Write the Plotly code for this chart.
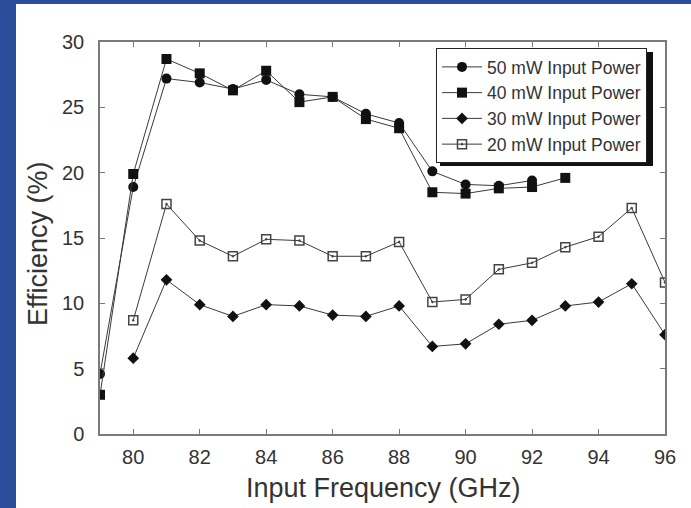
import plotly.graph_objects as go

# Measured efficiency (%) versus input frequency (GHz) at four drive levels
freq_50mw = [79, 80, 81, 82, 83, 84, 85, 86, 87, 88, 89, 90, 91, 92]
eff_50mw = [4.6, 18.9, 27.2, 26.9, 26.4, 27.1, 26.0, 25.8, 24.5, 23.8, 20.1, 19.1, 19.0, 19.4]

freq_40mw = [79, 80, 81, 82, 83, 84, 85, 86, 87, 88, 89, 90, 91, 92, 93]
eff_40mw = [3.0, 19.9, 28.7, 27.6, 26.3, 27.8, 25.4, 25.8, 24.1, 23.4, 18.5, 18.4, 18.8, 18.9, 19.6]

freq_30mw = [80, 81, 82, 83, 84, 85, 86, 87, 88, 89, 90, 91, 92, 93, 94, 95, 96]
eff_30mw = [5.8, 11.8, 9.9, 9.0, 9.9, 9.8, 9.1, 9.0, 9.8, 6.7, 6.9, 8.4, 8.7, 9.8, 10.1, 11.5, 7.6]

freq_20mw = [80, 81, 82, 83, 84, 85, 86, 87, 88, 89, 90, 91, 92, 93, 94, 95, 96]
eff_20mw = [8.7, 17.6, 14.8, 13.6, 14.9, 14.8, 13.6, 13.6, 14.7, 10.1, 10.3, 12.6, 13.1, 14.3, 15.1, 17.3, 11.6]

x_ticks = [80, 82, 84, 86, 88, 90, 92, 94, 96]
y_ticks = [0, 5, 10, 15, 20, 25, 30]

FONT = "Arial, Liberation Sans, sans-serif"
LINE = "#3a3a3a"
AXIS = "#7a7a7a"
BLUE = "#2c4c9c"

W, H = 691, 508
ML, MR, MT, MB = 100, 26, 42, 74
PW, PH = W - ML - MR, H - MT - MB


def px(xpix):
    return (xpix - ML) / PW


def py(ypix):
    return (H - MB - ypix) / PH


fig = go.Figure()

fig.add_trace(go.Scatter(
    x=freq_50mw, y=eff_50mw, name="50 mW Input Power", mode="lines+markers",
    line=dict(color=LINE, width=1),
    marker=dict(symbol="circle", size=10, color="#111111"),
))
fig.add_trace(go.Scatter(
    x=freq_40mw, y=eff_40mw, name="40 mW Input Power", mode="lines+markers",
    line=dict(color=LINE, width=1),
    marker=dict(symbol="square", size=10, color="#111111"),
))
fig.add_trace(go.Scatter(
    x=freq_30mw, y=eff_30mw, name="30 mW Input Power", mode="lines+markers",
    line=dict(color=LINE, width=1),
    marker=dict(symbol="diamond", size=9, color="#111111"),
))
fig.add_trace(go.Scatter(
    x=freq_20mw, y=eff_20mw, name="20 mW Input Power", mode="lines+markers",
    line=dict(color=LINE, width=1),
    marker=dict(symbol="square-open-dot", size=9, color="#444444",
                line=dict(width=1.5)),
))

axis_common = dict(
    showline=True, linecolor=AXIS, linewidth=1.5, mirror="ticks",
    ticks="inside", ticklen=5, tickcolor=AXIS, tickwidth=1,
    showgrid=False, zeroline=False,
    tickfont=dict(family=FONT, size=20, color="#333333"),
)

fig.update_xaxes(range=[79, 96], tickvals=x_ticks, ticklabelstandoff=4, **axis_common)
fig.update_yaxes(range=[0, 30], tickvals=y_ticks, ticklabelstandoff=10, **axis_common)

shapes = [
    # white page over the blue frame
    dict(type="rect", xref="paper", yref="paper", layer="below",
         x0=px(16), x1=px(W + 2), y0=py(H + 2), y1=py(4),
         fillcolor="white", line=dict(width=0)),
    # legend drop shadow
    dict(type="rect", xref="paper", yref="paper", layer="above",
         x0=px(440), x1=px(653), y0=py(166), y1=py(52),
         fillcolor="#111111", line=dict(width=0)),
]

annotations = [
    dict(text="Input Frequency (GHz)", xref="paper", yref="paper",
         x=px(383), y=py(488), xanchor="center", yanchor="middle",
         showarrow=False, font=dict(family=FONT, size=27, color="#333333")),
    dict(text="Efficiency (%)", xref="paper", yref="paper",
         x=px(38), y=py(244), xanchor="center", yanchor="middle", textangle=-90,
         showarrow=False, font=dict(family=FONT, size=27, color="#333333")),
]

fig.update_layout(
    width=W, height=H,
    margin=dict(l=ML, r=MR, t=MT, b=MB),
    paper_bgcolor=BLUE, plot_bgcolor="white",
    shapes=shapes, annotations=annotations,
    showlegend=True,
    legend=dict(
        x=px(436), y=py(48), xanchor="left", yanchor="top",
        bgcolor="white", bordercolor="#222222", borderwidth=1,
        font=dict(family=FONT, size=17.5, color="#333333"),
        itemwidth=40, tracegroupgap=0,
    ),
)

fig.write_html("out.html")
